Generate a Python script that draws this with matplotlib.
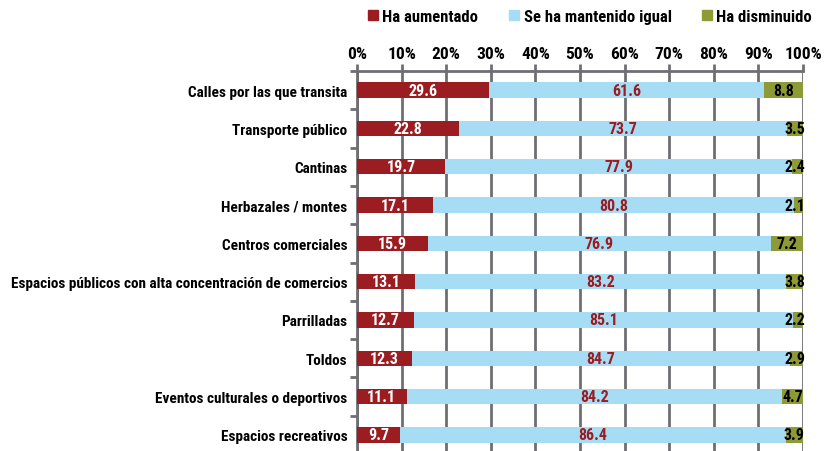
import numpy as np
import matplotlib.pyplot as plt
from matplotlib.patches import Patch

categorias = ["Calles por las que transita", "Transporte público", "Cantinas",
              "Herbazales / montes", "Centros comerciales",
              "Espacios públicos con alta concentración de comercios",
              "Parrilladas", "Toldos", "Eventos culturales o deportivos",
              "Espacios recreativos"]
aumentado = [29.6, 22.8, 19.7, 17.1, 15.9, 13.1, 12.7, 12.3, 11.1, 9.7]
igual = [61.6, 73.7, 77.9, 80.8, 76.9, 83.2, 85.1, 84.7, 84.2, 86.4]
disminuido = [8.8, 3.5, 2.4, 2.1, 7.2, 3.8, 2.2, 2.9, 4.7, 3.9]
series = ["Ha aumentado", "Se ha mantenido igual", "Ha disminuido"]

rojo = "#9b1c21"
celeste = "#a6dcf4"
oliva = "#8d9a35"
gris = "#6e6e73"

plt.rcParams['font.family'] = ['Roboto Condensed', 'DejaVu Sans']
plt.rcParams['font.stretch'] = 'condensed'
plt.rcParams['font.weight'] = 'bold'

fig = plt.figure(figsize=(8.25, 4.52), dpi=100)
ax = fig.add_axes([357 / 825, -3 / 452, 446 / 825, 383 / 452])

y = np.arange(len(categorias))
h = 0.4
a = np.array(aumentado)
m = np.array(igual)
d = np.array(disminuido)

ax.barh(y, a, height=h, color=rojo, zorder=3)
ax.barh(y, m, left=a, height=h, color=celeste, zorder=3)
ax.barh(y, d, left=a + m, height=h, color=oliva, zorder=3)

for i in range(len(categorias)):
    ax.text(a[i] / 2, y[i], f"{a[i]:.1f}", ha='center', va='center',
            color='white', fontsize=11.5, zorder=4)
    ax.text(a[i] + m[i] / 2, y[i], f"{m[i]:.1f}", ha='center', va='center',
            color=rojo, fontsize=11.5, zorder=4)
    # small values: keep the label inside the plot, like the original
    xd = min(a[i] + m[i] + d[i] / 2, 98.1)
    ax.text(xd, y[i], f"{d[i]:.1f}", ha='center', va='center',
            color='black', fontsize=11.5, zorder=4)

ax.set_xlim(0, 100)
ax.set_ylim(len(categorias) - 0.5, -0.5)
ax.xaxis.tick_top()
ax.set_xticks(np.arange(0, 101, 10))
ax.set_xticklabels([f"{v}%" for v in range(0, 101, 10)], fontsize=12.5)
ax.tick_params(axis='x', length=5, width=2, color=gris, pad=2)
ax.set_yticks(y)
ax.set_yticklabels(categorias, fontsize=11)
ax.tick_params(axis='y', which='major', length=0, pad=7)
ax.set_yticks(np.arange(-0.5, len(categorias), 1), minor=True)
ax.tick_params(axis='y', which='minor', length=5, width=2, color=gris)
ax.grid(axis='x', color=gris, linewidth=2, zorder=0)

for s in ['right', 'bottom']:
    ax.spines[s].set_visible(False)
for s in ['top', 'left']:
    ax.spines[s].set_color(gris)
    ax.spines[s].set_linewidth(2)

handles = [Patch(color=c) for c in [rojo, celeste, oliva]]
fig.legend(handles, series, loc='center', bbox_to_anchor=(0.715, 0.962), ncol=3,
           frameon=False, fontsize=12, handlelength=0.6, handleheight=0.6,
           columnspacing=1.8, handletextpad=0.3)

fig.savefig("out.png", dpi=100)
